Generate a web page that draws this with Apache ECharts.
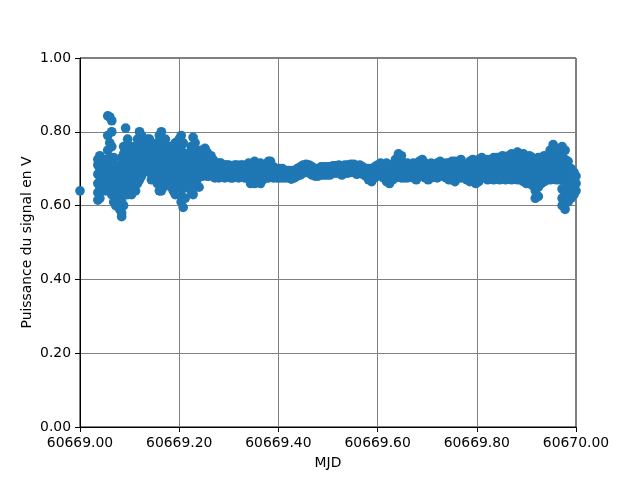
<!DOCTYPE html>
<html>
<head>
<meta charset="utf-8">
<script src="https://cdn.jsdelivr.net/npm/echarts@6/dist/echarts.min.js"></script>
<style>html,body{margin:0;padding:0;background:#fff}#c{width:640px;height:480px}</style>
</head>
<body>
<div id="c"></div>
<script>
const mjdBase = 60669;
const xTicks = [0, 0.2, 0.4, 0.6, 0.8, 1.0];
const yTicks = [0, 0.2, 0.4, 0.6, 0.8, 1.0];

// Early, turbulent segment: [offset, [values...]]
const earlySeg = [
  [0.000,[0.64]],
  [0.036,[0.615,0.635,0.66,0.685,0.71,0.725]],
  [0.040,[0.62,0.65,0.68,0.70,0.735]],
  [0.044,[0.64,0.67,0.69,0.72]],
  [0.048,[0.65,0.675,0.70,0.725]],
  [0.052,[0.64,0.66,0.69,0.71]],
  [0.056,[0.66,0.68,0.70,0.75,0.79,0.843]],
  [0.060,[0.65,0.67,0.70,0.73,0.77,0.84]],
  [0.064,[0.63,0.66,0.68,0.71,0.76,0.80,0.83]],
  [0.068,[0.61,0.64,0.67,0.70,0.73]],
  [0.072,[0.60,0.63,0.66,0.69,0.71]],
  [0.076,[0.62,0.64,0.67,0.70]],
  [0.080,[0.59,0.63,0.66,0.69,0.71]],
  [0.084,[0.57,0.58,0.61,0.65,0.68,0.70,0.73]],
  [0.088,[0.60,0.64,0.67,0.70,0.74,0.76]],
  [0.092,[0.63,0.66,0.69,0.72,0.75,0.81]],
  [0.096,[0.63,0.66,0.68,0.72,0.75,0.78]],
  [0.100,[0.64,0.67,0.70,0.73,0.76]],
  [0.104,[0.63,0.66,0.69,0.72,0.74]],
  [0.108,[0.65,0.68,0.71,0.73,0.76]],
  [0.112,[0.64,0.67,0.70,0.72,0.75]],
  [0.116,[0.66,0.69,0.72,0.75,0.78]],
  [0.120,[0.67,0.70,0.73,0.76,0.80]],
  [0.124,[0.68,0.71,0.74,0.77,0.79]],
  [0.128,[0.69,0.72,0.74,0.76]],
  [0.132,[0.70,0.72,0.75,0.77]],
  [0.136,[0.70,0.73,0.76,0.78]],
  [0.140,[0.69,0.72,0.75,0.78]],
  [0.144,[0.67,0.70,0.73,0.76]],
  [0.148,[0.68,0.71,0.74,0.76]],
  [0.152,[0.67,0.70,0.73,0.75]],
  [0.156,[0.66,0.69,0.72,0.75,0.77]],
  [0.160,[0.64,0.67,0.70,0.73,0.76,0.79]],
  [0.164,[0.64,0.67,0.70,0.73,0.76,0.80]],
  [0.168,[0.65,0.68,0.71,0.74,0.77]],
  [0.172,[0.66,0.69,0.72,0.75,0.78]],
  [0.176,[0.67,0.70,0.73,0.76]],
  [0.180,[0.66,0.68,0.71,0.74,0.76]],
  [0.184,[0.65,0.68,0.71,0.73,0.76]],
  [0.188,[0.64,0.67,0.70,0.73,0.75]],
  [0.192,[0.63,0.66,0.69,0.72,0.75,0.77]],
  [0.196,[0.64,0.67,0.70,0.73,0.76]],
  [0.200,[0.63,0.66,0.69,0.72,0.75,0.78]],
  [0.204,[0.61,0.64,0.67,0.70,0.73,0.76,0.79]],
  [0.208,[0.595,0.62,0.65,0.68,0.71,0.74,0.77]],
  [0.212,[0.62,0.65,0.68,0.71,0.74]],
  [0.216,[0.65,0.68,0.71,0.74]],
  [0.220,[0.67,0.70,0.73]],
  [0.224,[0.64,0.67,0.70,0.73,0.76]],
  [0.228,[0.63,0.66,0.69,0.72,0.75,0.785]],
  [0.232,[0.65,0.68,0.71,0.74,0.77]],
  [0.236,[0.67,0.70,0.73,0.75]],
  [0.240,[0.65,0.68,0.71,0.73]],
  [0.244,[0.68,0.71,0.73,0.75]],
  [0.248,[0.68,0.70,0.72,0.75]],
  [0.252,[0.69,0.71,0.735,0.755]],
  [0.256,[0.68,0.70,0.725,0.745]],
  [0.260,[0.68,0.705,0.73]],
  [0.264,[0.685,0.71,0.735]],
  [0.268,[0.68,0.70,0.725]]
];

// Calm middle segment
const middleSeg = [
  [0.272,[0.675,0.695,0.715]],
  [0.276,[0.68,0.70,0.715]],
  [0.280,[0.675,0.695,0.715]],
  [0.284,[0.68,0.70,0.715]],
  [0.288,[0.68,0.695,0.71]],
  [0.292,[0.675,0.69,0.71]],
  [0.296,[0.68,0.695,0.71]],
  [0.300,[0.68,0.695,0.71]],
  [0.304,[0.675,0.69,0.705]],
  [0.308,[0.675,0.69,0.705]],
  [0.312,[0.68,0.695,0.71]],
  [0.316,[0.68,0.695,0.71]],
  [0.320,[0.675,0.69,0.705]],
  [0.324,[0.68,0.695,0.71]],
  [0.328,[0.68,0.695,0.71]],
  [0.332,[0.675,0.69,0.705]],
  [0.336,[0.675,0.695,0.71]],
  [0.340,[0.68,0.70,0.715]],
  [0.344,[0.66,0.68,0.695,0.71]],
  [0.348,[0.67,0.69,0.71]],
  [0.352,[0.66,0.68,0.70,0.72]],
  [0.356,[0.675,0.695,0.71]],
  [0.360,[0.67,0.69,0.705]],
  [0.364,[0.66,0.68,0.70,0.715]],
  [0.368,[0.67,0.69,0.705]],
  [0.372,[0.675,0.695,0.71]],
  [0.376,[0.675,0.69,0.705]],
  [0.380,[0.675,0.69,0.70,0.72]],
  [0.384,[0.68,0.695,0.71,0.72]],
  [0.390,[0.675,0.69,0.705]],
  [0.396,[0.675,0.69,0.70]],
  [0.402,[0.675,0.69,0.70]],
  [0.408,[0.675,0.685,0.70]],
  [0.414,[0.675,0.685,0.695]],
  [0.420,[0.675,0.685,0.695]],
  [0.426,[0.672,0.683,0.695]],
  [0.432,[0.675,0.685,0.695]],
  [0.438,[0.68,0.69,0.70]],
  [0.444,[0.683,0.695,0.705]],
  [0.450,[0.688,0.70,0.71]],
  [0.456,[0.69,0.70,0.712]],
  [0.462,[0.688,0.70,0.71]],
  [0.468,[0.683,0.695,0.705]],
  [0.474,[0.68,0.69,0.70]],
  [0.480,[0.68,0.69,0.70]],
  [0.486,[0.683,0.695,0.705]],
  [0.492,[0.683,0.695,0.705]],
  [0.498,[0.683,0.695,0.705]],
  [0.504,[0.683,0.695,0.705]],
  [0.510,[0.688,0.70,0.708]],
  [0.516,[0.688,0.70,0.708]],
  [0.522,[0.688,0.70,0.71]],
  [0.528,[0.683,0.695,0.705]],
  [0.534,[0.688,0.70,0.71]],
  [0.540,[0.688,0.70,0.71]],
  [0.546,[0.69,0.70,0.712]],
  [0.552,[0.69,0.70,0.712]],
  [0.558,[0.685,0.695,0.705]],
  [0.564,[0.688,0.70,0.71]],
  [0.570,[0.685,0.695,0.705]],
  [0.576,[0.68,0.69,0.70]],
  [0.582,[0.67,0.685,0.70]],
  [0.588,[0.665,0.68,0.695]],
  [0.594,[0.675,0.69,0.705]]
];

// Late segment, noisier again
const lateSeg = [
  [0.600,[0.68,0.695,0.71]],
  [0.606,[0.685,0.70,0.715]],
  [0.612,[0.675,0.69,0.71]],
  [0.618,[0.665,0.68,0.70,0.715]],
  [0.624,[0.66,0.675,0.69,0.71]],
  [0.630,[0.67,0.69,0.71]],
  [0.636,[0.675,0.69,0.71,0.725]],
  [0.642,[0.68,0.70,0.72,0.74]],
  [0.648,[0.675,0.695,0.715,0.735]],
  [0.654,[0.675,0.69,0.705,0.715]],
  [0.660,[0.675,0.69,0.705,0.715]],
  [0.666,[0.68,0.695,0.71]],
  [0.672,[0.675,0.69,0.705,0.715]],
  [0.678,[0.67,0.685,0.70]],
  [0.684,[0.68,0.695,0.71,0.72]],
  [0.690,[0.68,0.695,0.71,0.725]],
  [0.696,[0.675,0.69,0.705,0.715]],
  [0.702,[0.67,0.685,0.70]],
  [0.708,[0.675,0.69,0.705,0.715]],
  [0.714,[0.68,0.695,0.71]],
  [0.720,[0.675,0.69,0.705,0.715]],
  [0.726,[0.68,0.695,0.71,0.72]],
  [0.732,[0.68,0.695,0.71]],
  [0.738,[0.675,0.69,0.705,0.715]],
  [0.744,[0.67,0.685,0.70,0.715]],
  [0.750,[0.67,0.69,0.71,0.72]],
  [0.756,[0.665,0.685,0.705,0.72]],
  [0.762,[0.675,0.695,0.715]],
  [0.768,[0.675,0.695,0.715,0.725]],
  [0.774,[0.675,0.695,0.71]],
  [0.780,[0.67,0.69,0.71]],
  [0.786,[0.665,0.68,0.70,0.72]],
  [0.792,[0.67,0.69,0.71,0.725]],
  [0.798,[0.66,0.68,0.70,0.72]],
  [0.804,[0.665,0.685,0.705,0.725]],
  [0.810,[0.675,0.695,0.715,0.73]],
  [0.816,[0.675,0.695,0.715]],
  [0.822,[0.67,0.69,0.71,0.725]],
  [0.828,[0.675,0.695,0.715]],
  [0.834,[0.67,0.69,0.71,0.73]],
  [0.840,[0.675,0.695,0.715,0.73]],
  [0.846,[0.67,0.69,0.71,0.73]],
  [0.852,[0.675,0.695,0.715,0.735]],
  [0.858,[0.67,0.69,0.71,0.73]],
  [0.864,[0.675,0.695,0.715,0.735]],
  [0.870,[0.67,0.69,0.71,0.74]],
  [0.876,[0.675,0.695,0.715,0.735]],
  [0.882,[0.67,0.69,0.71,0.73,0.745]],
  [0.888,[0.67,0.69,0.71,0.73]],
  [0.894,[0.665,0.685,0.705,0.725,0.74]],
  [0.900,[0.66,0.68,0.70,0.72]],
  [0.906,[0.66,0.68,0.70,0.72,0.735]],
  [0.912,[0.655,0.675,0.695,0.715,0.73]],
  [0.918,[0.62,0.64,0.665,0.685,0.705,0.725]],
  [0.924,[0.625,0.65,0.67,0.69,0.71,0.73]],
  [0.930,[0.66,0.68,0.70,0.72]],
  [0.936,[0.665,0.685,0.705,0.725,0.735]],
  [0.942,[0.67,0.69,0.71,0.73]],
  [0.948,[0.67,0.69,0.71,0.73,0.75]],
  [0.954,[0.675,0.695,0.715,0.74,0.765]],
  [0.960,[0.67,0.69,0.71,0.73,0.75]],
  [0.966,[0.67,0.69,0.71,0.73]],
  [0.972,[0.60,0.62,0.645,0.67,0.69,0.71,0.735,0.76]],
  [0.978,[0.59,0.61,0.635,0.66,0.68,0.70,0.725,0.75]],
  [0.984,[0.61,0.63,0.655,0.68,0.70,0.72]],
  [0.990,[0.62,0.64,0.66,0.68,0.70]],
  [0.996,[0.63,0.65,0.67,0.69]],
  [1.000,[0.64,0.66,0.68]]
];

const points = [];
[earlySeg, middleSeg, lateSeg].forEach(seg => {
  seg.forEach(([x, ys]) => ys.forEach(y => points.push([x, y])));
});

const font = 'DejaVu Sans';
const chart = echarts.init(document.getElementById('c'), null, {renderer: 'canvas'});
chart.setOption({
  animation: false,
  backgroundColor: '#ffffff',
  grid: {left: 80, right: 64, top: 58, bottom: 53, show: true, borderColor: '#000', borderWidth: 1, backgroundColor: 'transparent'},
  xAxis: {
    type: 'value', min: xTicks[0], max: xTicks[xTicks.length - 1], interval: 0.2,
    name: 'MJD', nameLocation: 'middle', nameGap: 29, nameMoveOverlap: false,
    nameTextStyle: {fontFamily: font, fontSize: 13.9, color: '#000'},
    axisLine: {show: true, onZero: false, lineStyle: {color: '#000', width: 1}},
    axisTick: {show: true, length: 5, lineStyle: {color: '#000', width: 1}},
    axisLabel: {margin: 9, fontFamily: font, fontSize: 13.9, color: '#000',
      formatter: v => (mjdBase + v).toFixed(2)},
    splitLine: {show: true, lineStyle: {color: '#808080', width: 1}}
  },
  yAxis: {
    type: 'value', min: yTicks[0], max: yTicks[yTicks.length - 1], interval: 0.2,
    name: 'Puissance du signal en V', nameLocation: 'middle', nameGap: 46, nameMoveOverlap: false,
    nameTextStyle: {fontFamily: font, fontSize: 13.9, color: '#000'},
    axisLine: {show: true, onZero: false, lineStyle: {color: '#000', width: 1}},
    axisTick: {show: true, length: 5, lineStyle: {color: '#000', width: 1}},
    axisLabel: {margin: 9, fontFamily: font, fontSize: 13.9, color: '#000',
      formatter: v => v.toFixed(2)},
    splitLine: {show: true, lineStyle: {color: '#808080', width: 1}}
  },
  series: [{
    type: 'scatter',
    data: points,
    symbol: 'circle',
    symbolSize: 9.7,
    itemStyle: {color: '#1f77b4', opacity: 1},
    emphasis: {disabled: true},
    silent: true
  }]
});
</script>
</body>
</html>
